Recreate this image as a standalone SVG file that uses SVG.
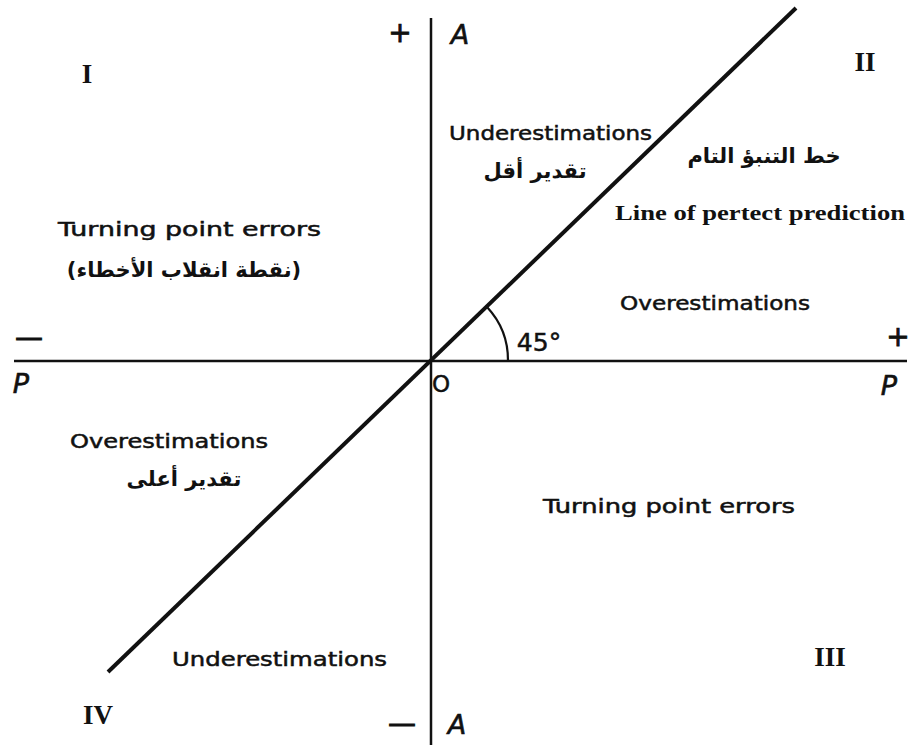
<svg xmlns="http://www.w3.org/2000/svg" width="912" height="748" viewBox="0 0 912 748">
<style>
.s{font-family:"DejaVu Sans","Liberation Sans",sans-serif;font-size:19px;fill:#111;stroke:#111;stroke-width:0.5;}
.ar{font-family:"DejaVu Sans","Noto Sans",sans-serif;font-size:21px;font-weight:bold;fill:#111;}
.r{font-family:"Liberation Serif",serif;font-weight:bold;font-size:27px;fill:#111;}
.ax{font-family:"DejaVu Sans","Liberation Sans",sans-serif;font-size:28px;fill:#111;stroke:#111;stroke-width:0.8;}
.it{font-family:"DejaVu Sans","Liberation Sans",sans-serif;font-size:27px;font-style:italic;fill:#111;stroke:#111;stroke-width:0.6;}
</style>
<rect width="912" height="748" fill="#fff"/>
<g id="connectors" stroke="#111" fill="none">
<line x1="431" y1="18" x2="431" y2="745" stroke-width="2.5"/>
<line x1="14" y1="361" x2="907" y2="361" stroke-width="2.5"/>
<line x1="108" y1="672" x2="796" y2="8" stroke-width="4"/>
<path d="M487,307 A78,78 0 0 1 508,361" stroke-width="2.2"/>
</g>
<g id="axis-labels">
<text class="ax" x="400" y="42" text-anchor="middle">+</text>
<text class="it" x="460" y="44" text-anchor="middle">A</text>
<text class="ax" x="402" y="733" text-anchor="middle">—</text>
<text class="it" x="457" y="734" text-anchor="middle">A</text>
<text class="ax" x="29" y="347" text-anchor="middle">—</text>
<text class="it" x="21" y="393" text-anchor="middle">P</text>
<text class="ax" x="898" y="346" text-anchor="middle">+</text>
<text class="it" x="889" y="395" text-anchor="middle">P</text>
<text class="s" x="441" y="392" text-anchor="middle" style="font-size:23px">O</text>
<text class="s" x="539" y="351" text-anchor="middle" style="font-size:25px">45°</text>
</g>
<g id="quadrant-I"><text class="r" x="87" y="83" text-anchor="middle">I</text></g>
<g id="quadrant-II"><text class="r" x="865" y="71" text-anchor="middle">II</text></g>
<g id="quadrant-III"><text class="r" x="830" y="666" text-anchor="middle">III</text></g>
<g id="quadrant-IV"><text class="r" x="98" y="724" text-anchor="middle">IV</text></g>
<g id="underestimations-upper">
<text class="s" x="449" y="140" textLength="203" lengthAdjust="spacingAndGlyphs">Underestimations</text>
<text class="ar" x="535" y="178" text-anchor="middle" direction="rtl">تقدير أقل</text>
</g>
<g id="perfect-line-label">
<text class="ar" x="764" y="163" text-anchor="middle" direction="rtl">خط التنبؤ التام</text>
<text class="r" x="615" y="220" style="font-size:21px" textLength="290" lengthAdjust="spacingAndGlyphs">Line of pertect  prediction</text>
</g>
<g id="turning-upper">
<text class="s" x="58" y="236" textLength="263" lengthAdjust="spacingAndGlyphs">Turning  point errors</text>
<text class="ar" x="184" y="277" text-anchor="middle" direction="rtl">(نقطة انقلاب الأخطاء)</text>
</g>
<g id="overestimations-right">
<text class="s" x="620" y="310" textLength="190" lengthAdjust="spacingAndGlyphs">Overestimations</text>
</g>
<g id="overestimations-left">
<text class="s" x="70" y="448" textLength="198" lengthAdjust="spacingAndGlyphs">Overestimations</text>
<text class="ar" x="184" y="486" text-anchor="middle" direction="rtl">تقدير أعلى</text>
</g>
<g id="turning-lower">
<text class="s" x="543" y="513" textLength="252" lengthAdjust="spacingAndGlyphs">Turning point errors</text>
</g>
<g id="underestimations-lower">
<text class="s" x="172" y="666" textLength="215" lengthAdjust="spacingAndGlyphs">Underestimations</text>
</g>
</svg>
